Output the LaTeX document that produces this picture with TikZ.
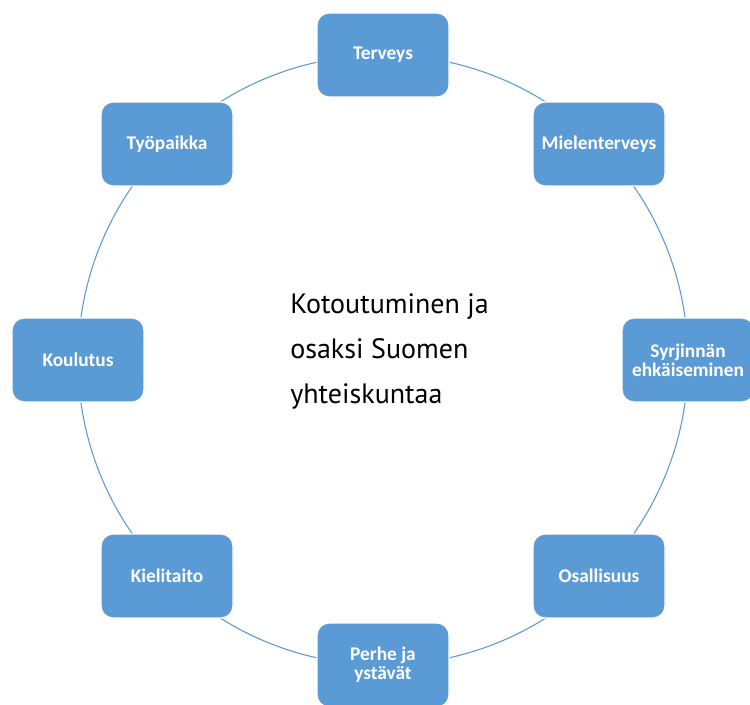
\documentclass[tikz,border=0pt]{standalone}
\usepackage{fontspec}
\setmainfont{PT Sans}
\newfontfamily\laatikkofont{Carlito}
\definecolor{sininen}{RGB}{91,155,213}
\tikzset{laatikko/.style={rectangle, rounded corners=9pt, fill=sininen, draw=white, line width=1pt,
		minimum width=99pt, minimum height=63pt, align=center, text=white, inner sep=2pt,
		font=\laatikkofont\bfseries\fontsize{14.5}{14.5}\selectfont}}

\begin{document}
\begin{tikzpicture}[x=0.75pt, y=-0.75pt]
			%%%%% START %%%%%
			\useasboundingbox[fill=white] (0, 0) rectangle (750, 704);
			
			\coordinate (keskipiste) at (383, 360);
			\draw[sininen, line width=0.8pt] (keskipiste) circle [radius=228.75pt];
			
			\node[laatikko] (terveys) at (383, 55) {Terveys};
			\node[laatikko] (mielenterveys) at (599, 144) {Mielenterveys};
			\node[laatikko] (syrjinta) at (688, 360) {Syrjinnän\\ehkäiseminen};
			\node[laatikko] (osallisuus) at (599, 576) {Osallisuus};
			\node[laatikko] (perhe) at (383, 665) {Perhe ja\\ystävät};
			\node[laatikko] (kielitaito) at (167, 576) {Kielitaito};
			\node[laatikko] (koulutus) at (78, 360) {Koulutus};
			\node[laatikko] (tyopaikka) at (167, 144) {Työpaikka};
			
			\node[anchor=north west, inner sep=0pt, align=left, font=\fontsize{21}{33.75}\selectfont]
				(kotoutuminen) at (290, 293) {Kotoutuminen ja\\osaksi Suomen\\yhteiskuntaa};
			%%%%% END %%%%%
\end{tikzpicture}
\end{document}
